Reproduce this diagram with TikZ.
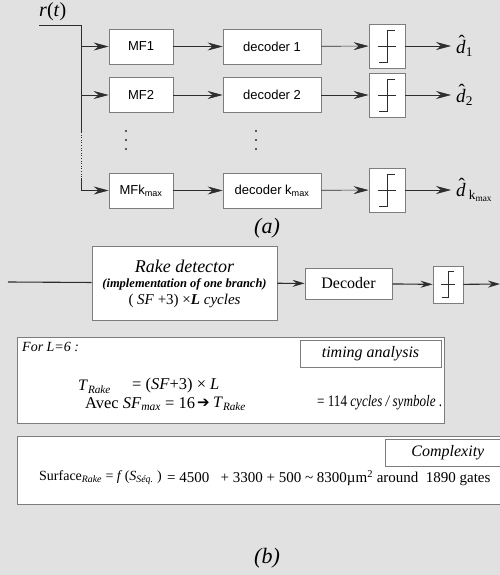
\documentclass[tikz,border=0pt]{standalone}
\usepackage{fontspec}
\setmainfont{Liberation Serif}
\newfontfamily\arialf{Liberation Sans}
\newfontfamily\dejavu{DejaVu Sans}
\newfontfamily\cserif{Liberation Serif}[FakeStretch=0.82]
\usetikzlibrary{arrows.meta}
\definecolor{bg}{RGB}{225,225,225}
\definecolor{bord}{RGB}{125,125,125}
\definecolor{ln}{RGB}{45,45,45}
\newcommand{\dhat}{\textit{d}\llap{\raisebox{0.24em}{ˆ}\kern0.04em}}
\tikzset{
  box/.style={draw=bord, fill=white, line width=0.8pt, inner sep=0pt, anchor=center},
  sbox/.style={box, minimum width=64pt, minimum height=35pt, font=\arialf\fontsize{13}{15}\selectfont},
  dbox/.style={box, minimum width=98pt, minimum height=35pt, font=\arialf\fontsize{13}{15}\selectfont},
  tbox/.style={box, minimum width=36pt, minimum height=44pt},
  arr/.style={draw=ln, line width=0.6pt, -{Stealth[length=15pt,width=8pt,inset=5pt]}},
  barr/.style={draw=ln, line width=1.1pt, -{Stealth[length=12pt,width=7pt,inset=4pt]}},
  wire/.style={draw=ln, line width=0.6pt},
  stepsym/.pic={\draw[ln, line width=0.5pt] (-8,16)--(0,16)--(0,-16)--(8,-16); \draw[ln, line width=0.5pt] (-9,0)--(9,0);},
  lab/.style={font=\fontsize{22}{24}\selectfont\itshape, inner sep=0pt},
  dlab/.style={font=\fontsize{19}{21}\selectfont, inner sep=0pt, anchor=west},
  txt/.style={font=\fontsize{16}{18}\selectfont, inner sep=0pt, anchor=west},
}
\begin{document}
\begin{tikzpicture}[x=1pt,y=-1pt]
\useasboundingbox (0,0) rectangle (500,575);
\fill[bg] (0,0) rectangle (500,575);
\clip (0,0) rectangle (500,575);
% ---------- part (a)
\node[lab, font=\fontsize{20}{22}\selectfont, anchor=south west] (rt) at (39,21) {\textit{r}(\textit{t})};
\coordinate (in) at (39,25);
\coordinate (bus) at (81,25);
\node[sbox] (mf1) at (141,46.5) {MF1};
\node[sbox] (mf2) at (141,95) {MF2};
\node[sbox] (mfk) at (141,190.5) {MFk\textsubscript{max}};
\node[dbox] (dc1) at (272,46.5) {decoder 1};
\node[dbox] (dc2) at (272,95) {decoder 2};
\node[dbox] (dck) at (272,190.5) {decoder k\textsubscript{max}};
\node[tbox] (th1) at (387,46) {};
\node[tbox] (th2) at (387,95) {};
\node[tbox] (thk) at (387,190) {};
\pic at (th1) {stepsym};
\pic at (th2) {stepsym};
\pic at (thk) {stepsym};
\coordinate (b1) at (81,46.5);
\coordinate (b2) at (81,95);
\coordinate (b3) at (81,190.5);
\coordinate (bd1) at (81,132);
\coordinate (bd2) at (81,178);
\draw[wire] (in) -- (bus) -- (bd1);
\draw[wire, dotted] (bd1) -- (bd2);
\draw[wire] (bd2) -- (b3);
\draw[arr] (b1) -- (mf1);
\draw[arr] (b2) -- (mf2);
\draw[arr] (b3) -- (mfk);
\draw[arr] (mf1) -- (dc1);
\draw[arr] (mf2) -- (dc2);
\draw[arr] (mfk) -- (dck);
\draw[arr] (dc1) -- (th1);
\draw[arr] (dc2) -- (th2);
\draw[arr] (dck) -- (thk);
\coordinate (o1) at (451,46);
\coordinate (o2) at (451,95);
\coordinate (ok) at (451,190);
\draw[arr] (th1) -- (o1);
\draw[arr] (th2) -- (o2);
\draw[arr] (thk) -- (ok);
\node[dlab] (d1) at (456,46) {\dhat\textsubscript{1}};
\node[dlab] (d2) at (456,95) {\dhat\textsubscript{2}};
\node[dlab] (dk) at (456,190) {\dhat\,\textsubscript{k\textsubscript{max}}};
\foreach \yy in {131,140,149}{
  \fill[ln] (126,\yy) circle (1.2pt);
  \fill[ln] (256,\yy) circle (1.2pt);
}
\node[lab] (la) at (267,228) {(a)};
% ---------- part (b)
\coordinate (bin) at (8,282);
\node[box, minimum width=185pt, minimum height=74pt] (rake) at (184.5,283) {};
\node[font=\fontsize{18}{20}\selectfont\itshape, inner sep=0pt] (rk1) at (184.5,266) {Rake detector};
\node[font=\fontsize{12.5}{13}\selectfont\bfseries\itshape, inner sep=0pt] (rk2) at (184.5,284) {(implementation of one branch)};
\node[font=\fontsize{15}{16}\selectfont, inner sep=0pt] (rk3) at (184.5,301) {( \textit{SF} +3) ×\textbf{\textit{L}} \textit{cycles}};
\node[box, minimum width=87pt, minimum height=31pt, font=\fontsize{16}{17}\selectfont] (dec) at (348.5,283.5) {Decoder};
\node[box, minimum width=30pt, minimum height=37pt] (thb) at (448,284.5) {};
\pic[scale=0.8] at (thb) {stepsym};
\coordinate (bout) at (500,284);
\draw[barr, -] (bin) -- (rake);
\draw[barr] (rake) -- (dec);
\draw[barr] (dec) -- (thb);
\draw[barr] (thb) -- (bout);
% timing box
\draw[bord, fill=white, line width=0.8pt] (17,337) rectangle (444,423);
\node[box, minimum width=141pt, minimum height=27pt, font=\fontsize{16}{18}\selectfont\itshape] (tim) at (370.5,353.5) {timing analysis};
\node[txt, font=\fontsize{14}{16}\selectfont\itshape] (for) at (22,347) {For L=6 :};
\node[txt] (tr) at (78,387) {\textit{T}\textsubscript{\textit{Rake}}};
\node[txt, font=\fontsize{16.5}{18}\selectfont] (tr2) at (132,386) {= (\textit{SF}+3) × \textit{L}};
\node[txt, font=\fontsize{16.5}{18}\selectfont] (av) at (85,404) {Avec \textit{SF}\textsubscript{\textit{max}}};
\node[txt, font=\fontsize{16.5}{18}\selectfont] (av2) at (165,403) {= 16};
\node[txt, font=\dejavu\fontsize{15}{17}\selectfont] (avar) at (197,403) {➔};
\node[txt] (av3) at (213,404) {\textit{T}\textsubscript{\textit{Rake}}};
\node[txt, font=\cserif\fontsize{16}{18}\selectfont] (cy) at (317,403) {= 114 \textit{cycles / symbole} .};
% complexity box
\draw[bord, fill=white, line width=0.8pt] (17,436) rectangle (510,504);
\node[box, minimum width=125pt, minimum height=27pt, font=\fontsize{16}{18}\selectfont\itshape, anchor=west] (cpx) at (385,452.5) {Complexity};
\node[txt, font=\fontsize{14}{17}\selectfont] (sf) at (39,478) {Surface\textsubscript{\textit{Rake}} = \textit{f}\,(\textit{S}\textsubscript{\textit{Séq.}} )};
\node[txt, font=\fontsize{15}{17}\selectfont] (sv) at (167,478) {= 4500~~ + 3300 + 500 \textasciitilde{} 8300µm\textsuperscript{2} around~ 1890 gates};
\node[lab] (lb) at (267,558) {(b)};
\end{tikzpicture}
\end{document}
